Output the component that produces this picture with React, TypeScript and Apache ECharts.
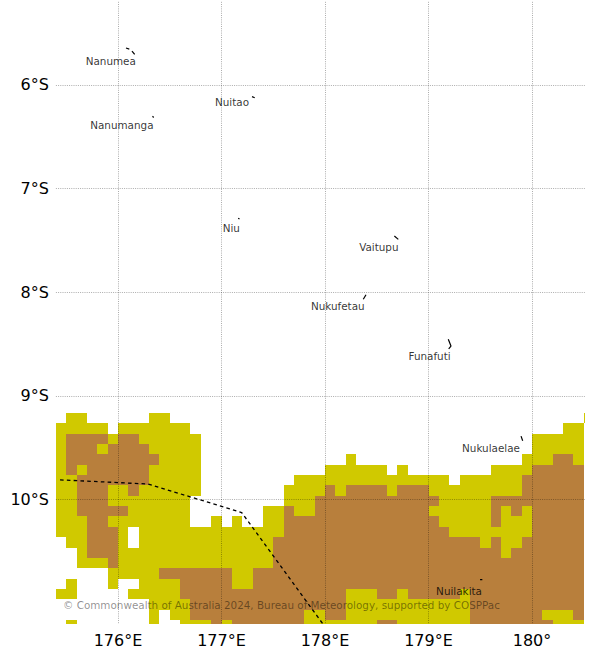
import React, { useEffect, useRef } from "react";
import * as echarts from "echarts";

const lonTicks = [176, 177, 178, 179, 180];
const lonTickLabels = ["176°E", "177°E", "178°E", "179°E", "180°"];
const latTicks = [-6, -7, -8, -9, -10];
const latTickLabels = ["6°S", "7°S", "8°S", "9°S", "10°S"];

const cellSize = 0.1;
const firstCellLon = 175.4;
const firstCellTopLat = -9.163;
const YELLOW = 1;
const BROWN = 2;

// each row, north to south: spans of [first column, last column, class]
const Y = YELLOW;
const B = BROWN;
const rowSpans: number[][][] = [
  [[1, 2, Y], [9, 10, Y], [51, 51, Y]],
  [[0, 4, Y], [6, 12, Y], [49, 50, Y]],
  [[0, 0, Y], [1, 4, B], [5, 5, Y], [6, 7, B], [8, 13, Y], [46, 50, Y]],
  [[0, 0, Y], [1, 3, B], [4, 4, Y], [5, 8, B], [9, 13, Y], [46, 50, Y]],
  [[0, 0, Y], [1, 9, B], [10, 13, Y], [28, 28, Y], [45, 47, Y], [48, 49, B], [50, 50, Y]],
  [[0, 0, Y], [1, 1, B], [2, 2, Y], [3, 8, B], [9, 13, Y], [26, 31, Y], [33, 33, Y], [42, 45, Y], [46, 50, B]],
  [[0, 1, Y], [2, 8, B], [9, 13, Y], [23, 37, Y], [39, 44, Y], [45, 50, B]],
  [[0, 1, Y], [2, 4, B], [5, 6, Y], [7, 7, B], [8, 13, Y], [22, 25, Y], [26, 26, B], [27, 27, Y], [28, 31, B], [32, 32, Y], [33, 35, B], [36, 44, Y], [45, 50, B]],
  [[0, 1, Y], [2, 4, B], [5, 12, Y], [22, 24, Y], [25, 36, B], [37, 41, Y], [42, 50, B]],
  [[0, 1, Y], [2, 6, B], [7, 12, Y], [20, 21, Y], [22, 22, B], [23, 24, Y], [25, 35, B], [36, 41, Y], [42, 42, B], [43, 43, Y], [44, 44, B], [45, 45, Y], [46, 50, B]],
  [[0, 2, Y], [3, 4, B], [5, 12, Y], [15, 15, Y], [17, 17, Y], [20, 21, Y], [22, 36, B], [37, 41, Y], [42, 42, B], [43, 45, Y], [46, 50, B]],
  [[0, 2, Y], [3, 5, B], [6, 6, Y], [8, 21, Y], [22, 37, B], [38, 45, Y], [46, 50, B]],
  [[1, 2, Y], [3, 5, B], [6, 6, Y], [8, 20, Y], [21, 40, B], [41, 41, Y], [42, 42, B], [43, 44, Y], [45, 50, B]],
  [[2, 2, Y], [3, 5, B], [6, 20, Y], [21, 42, B], [43, 43, Y], [44, 50, B]],
  [[2, 4, Y], [5, 5, B], [6, 20, Y], [21, 50, B]],
  [[5, 9, Y], [10, 16, B], [17, 18, Y], [19, 50, B]],
  [[1, 1, Y], [5, 5, Y], [8, 11, Y], [12, 16, B], [17, 18, Y], [19, 50, B]],
  [[0, 1, Y], [7, 11, Y], [12, 27, B], [28, 30, Y], [31, 32, B], [33, 33, Y], [34, 38, B], [39, 39, Y], [40, 50, B]],
  [[9, 12, Y], [13, 27, B], [28, 39, Y], [40, 50, B]],
  [[9, 9, Y], [11, 12, Y], [13, 23, B], [24, 25, Y], [26, 27, B], [28, 39, Y], [40, 46, B], [47, 49, Y], [50, 50, B]],
  [[1, 1, Y], [9, 9, Y], [12, 14, Y], [15, 15, B], [16, 16, Y], [17, 23, B], [24, 30, Y], [31, 32, B], [33, 39, Y], [40, 47, B], [48, 50, Y]],
];

const boundaryLine = [
  [175.44, -9.81],
  [176.29, -9.85],
  [177.195, -10.125],
  [177.98, -11.2],
];

const islandShapes = [
  [[176.077, -5.646], [176.109, -5.656]],
  [[176.135, -5.675], [176.161, -5.707]],
  [[176.333, -6.304], [176.345, -6.316]],
  [[177.295, -6.114], [177.321, -6.125]],
  [[177.161, -7.287], [177.174, -7.295]],
  [[178.67, -7.459], [178.708, -7.491]],
  [[178.37, -8.069], [178.396, -8.025]],
  [[179.191, -8.455], [179.217, -8.52], [179.195, -8.546]],
  [[179.894, -9.388], [179.91, -9.433]],
  [[179.498, -10.773], [179.52, -10.773]],
];

const islandNames = ["Nanumea", "Nanumanga", "Nuitao", "Niu", "Vaitupu", "Nukufetau", "Funafuti", "Nukulaelae", "Nuilakita"];
const islandLabelLon = [175.93, 176.037, 177.101, 177.095, 178.52, 178.123, 179.01, 179.604, 179.295];
const islandLabelLat = [-5.767, -6.389, -6.167, -7.385, -7.565, -8.131, -8.616, -9.503, -10.88];

const copyright = "© Commonwealth of Australia 2024, Bureau of Meteorology, supported by COSPPac";

const FONT = "DejaVu Sans";
const COLOR_YELLOW = "#d0c900";
const COLOR_BROWN = "#b87f3c";

export default function App() {
  const ref = useRef<HTMLDivElement>(null);
  useEffect(() => {
    const chart = echarts.init(ref.current!, undefined, { renderer: "svg" });
    const cells: number[][] = [];
    rowSpans.forEach((spans, r) => {
      spans.forEach(([a, b, level]) => {
        for (let c = a; c <= b; c++) {
          cells.push([firstCellLon + c * cellSize, firstCellTopLat - r * cellSize, level]);
        }
      });
    });
    const gridLine = { show: true, lineStyle: { color: "#000", width: 0.6, type: [1, 1.2] as number[], opacity: 0.55 } };
    chart.setOption({
      animation: false,
      backgroundColor: "#fff",
      grid: { left: 55.9, right: 590 - 584.8, top: 1.8, bottom: 26 },
      xAxis: {
        type: "value",
        min: 175.4,
        max: 180.51,
        z: 5,
        axisLine: { show: false },
        axisTick: { show: false, customValues: lonTicks },
        splitLine: gridLine,
        axisLabel: {
          customValues: lonTicks,
          margin: 8,
          fontFamily: FONT,
          fontSize: 16,
          color: "#000",
          formatter: (v: number) => lonTickLabels[lonTicks.indexOf(Math.round(v))] ?? "",
        },
      },
      yAxis: {
        type: "value",
        min: -11.2,
        max: -5.2,
        z: 5,
        axisLine: { show: false },
        axisTick: { show: false, customValues: latTicks },
        splitLine: gridLine,
        axisLabel: {
          customValues: latTicks,
          margin: 7,
          fontFamily: FONT,
          fontSize: 16,
          color: "#000",
          formatter: (v: number) => latTickLabels[latTicks.indexOf(Math.round(v))] ?? "",
        },
      },
      series: [
        {
          type: "custom",
          z: 2,
          clip: true,
          silent: true,
          encode: { x: 0, y: 1 },
          data: cells,
          renderItem: (_p: any, api: any) => {
            const lon = api.value(0);
            const lat = api.value(1);
            const color = api.value(2) === YELLOW ? COLOR_YELLOW : COLOR_BROWN;
            const p0 = api.coord([lon, lat]);
            const p1 = api.coord([lon + cellSize, lat - cellSize]);
            const cs = _p.coordSys;
            const x0 = Math.round(p0[0]);
            const y0 = Math.round(p0[1]);
            const x1 = Math.min(Math.round(p1[0]), Math.ceil(cs.x + cs.width));
            const y1 = Math.min(Math.round(p1[1]), Math.round(cs.y + cs.height));
            return {
              type: "rect",
              shape: { x: x0, y: y0, width: Math.max(x1 - x0, 1), height: Math.max(y1 - y0, 1) },
              style: { fill: color },
            };
          },
        },
        {
          type: "line",
          z: 8,
          silent: true,
          symbol: "none",
          data: boundaryLine,
          lineStyle: { color: "#000", width: 1.3, type: [3.6, 3.2] },
        },
        ...islandShapes.map((shape) => ({
          type: "line",
          z: 8,
          silent: true,
          symbol: "none",
          data: shape,
          lineStyle: { color: "#000", width: 1.2 },
        })),
        {
          type: "scatter",
          z: 9,
          silent: true,
          symbolSize: 0,
          data: islandNames.map((name, i) => ({ name, value: [islandLabelLon[i], islandLabelLat[i]] })),
          label: {
            show: true,
            position: "inside",
            formatter: "{b}",
            fontFamily: FONT,
            fontSize: 10.4,
            color: "#000",
          },
        },
      ],
      graphic: [
        {
          type: "text",
          x: 63,
          y: 605,
          z: 20,
          silent: true,
          style: {
            text: copyright,
            fontFamily: FONT,
            fontSize: 10.38,
            fill: "rgba(0,0,0,0.45)",
            verticalAlign: "middle",
          },
        },
      ],
    });
    return () => chart.dispose();
  }, []);
  return <div ref={ref} style={{ position: "absolute", left: 0, top: 0, width: 590, height: 650 }} />;
}
